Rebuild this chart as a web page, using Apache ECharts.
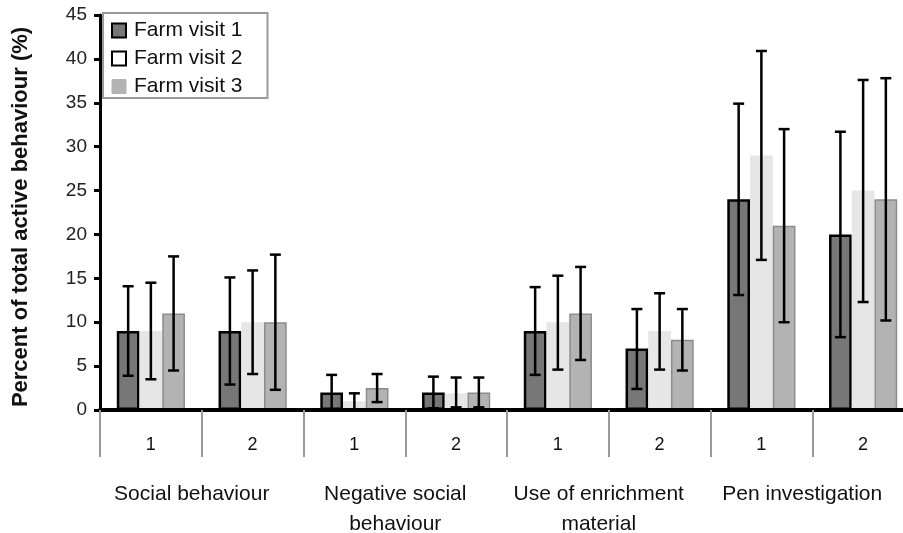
<!DOCTYPE html>
<html>
<head>
<meta charset="utf-8">
<style>
  html, body { margin: 0; padding: 0; background: #fff; }
  #chart { width: 903px; height: 533px; }
</style>
<script src="https://cdn.jsdelivr.net/npm/echarts@6/dist/echarts.min.js"></script>
</head>
<body>
<div id="chart"></div>
<script>
// Sub-category (period) labels and behaviour groups
const periods = ['1', '2', '1', '2', '1', '2', '1', '2'];
const groups = ['Social behaviour', 'Negative social\nbehaviour', 'Use of enrichment\nmaterial', 'Pen investigation'];
const seriesNames = ['Farm visit 1', 'Farm visit 2', 'Farm visit 3'];
const yTicks = { min: 0, max: 45, interval: 5 };

// Mean percentages per farm visit
const visit1 = [9, 9, 2, 2, 9, 7, 24, 20];
const visit2 = [9, 10, 1, 1.9, 10, 9, 29, 25];
const visit3 = [11, 10, 2.5, 2, 11, 8, 21, 24];

// Error bar lower / upper ends
const visit1Lo = [3.9, 2.9, 0, 0.2, 4.0, 2.4, 13.1, 8.3];
const visit1Hi = [14.1, 15.1, 4.0, 3.8, 14.0, 11.5, 34.9, 31.7];
const visit2Lo = [3.5, 4.1, 0, 0.3, 4.6, 4.6, 17.1, 12.3];
const visit2Hi = [14.5, 15.9, 1.9, 3.7, 15.3, 13.3, 40.9, 37.6];
const visit3Lo = [4.5, 2.3, 0.9, 0.3, 5.7, 4.5, 10.0, 10.2];
const visit3Hi = [17.5, 17.7, 4.1, 3.7, 16.3, 11.5, 32.0, 37.8];

const means = [visit1, visit2, visit3];
const lows = [visit1Lo, visit2Lo, visit3Lo];
const highs = [visit1Hi, visit2Hi, visit3Hi];

const FONT = '"Liberation Sans", Arial, sans-serif';
const CAT_GAP = 0.33;   // fraction of each band left empty around the bar group
const styles = [
  { color: '#777777', borderColor: '#000000', borderWidth: 2.5 },
  { color: '#e6e6e6', borderColor: '#e6e6e6', borderWidth: 0 },
  { color: '#b3b3b3', borderColor: '#8c8c8c', borderWidth: 1.5 }
];
const legendIcons = [
  { color: '#777777', borderColor: '#000000', borderWidth: 2 },
  { color: '#ffffff', borderColor: '#000000', borderWidth: 2 },
  { color: '#b3b3b3', borderColor: '#b3b3b3', borderWidth: 1 }
];

function errorSeries(k) {
  return {
    type: 'custom',
    name: seriesNames[k] + ' error',
    xAxisIndex: 0,
    z: 10,
    silent: true,
    data: periods.map((_, i) => [i, lows[k][i], highs[k][i]]),
    renderItem: function (params, api) {
      const band = api.size([1, 0])[0];
      const groupW = band * (1 - CAT_GAP);
      const barW = groupW / 3;
      const offset = -groupW / 2 + barW * (k + 0.5);
      const lo = api.coord([api.value(0), api.value(1)]);
      const hi = api.coord([api.value(0), api.value(2)]);
      const x = lo[0] + offset;
      const cap = 5.5;
      const st = { stroke: '#000', lineWidth: 2.5 };
      return {
        type: 'group',
        children: [
          { type: 'line', shape: { x1: x, y1: lo[1], x2: x, y2: hi[1] }, style: st },
          { type: 'line', shape: { x1: x - cap, y1: hi[1], x2: x + cap, y2: hi[1] }, style: st },
          { type: 'line', shape: { x1: x - cap, y1: lo[1], x2: x + cap, y2: lo[1] }, style: st }
        ]
      };
    }
  };
}

const chart = echarts.init(document.getElementById('chart'), null, { renderer: 'canvas' });

const option = {
  animation: false,
  backgroundColor: '#ffffff',
  textStyle: { fontFamily: FONT },
  grid: { left: 100, top: 15, width: 814, height: 395, containLabel: false, outerBoundsMode: 'none' },
  legend: {
    orient: 'vertical',
    left: 103,
    top: 13,
    padding: [7, 25, 1, 8],
    itemGap: 7,
    itemWidth: 14,
    itemHeight: 14,
    backgroundColor: '#ffffff',
    borderColor: '#9a9a9a',
    borderWidth: 2,
    borderRadius: 0,
    icon: 'rect',
    textStyle: { fontSize: 21, color: '#111', fontFamily: FONT, padding: [0, 0, 0, 3] },
    data: seriesNames.map((n, k) => ({ name: n, itemStyle: legendIcons[k] }))
  },
  xAxis: [
    {
      type: 'category',
      data: periods,
      position: 'bottom',
      z: 5,
      axisLine: { show: true, lineStyle: { color: '#000', width: 4 } },
      axisTick: { show: true, interval: 0, length: 47, lineStyle: { color: '#999', width: 2 } },
      axisLabel: { interval: 0, fontSize: 18, color: '#111', margin: 26, fontFamily: FONT },
      splitLine: { show: false }
    },
    {
      type: 'category',
      data: groups,
      position: 'bottom',
      offset: 69,
      axisLine: { show: false },
      axisTick: { show: false },
      axisLabel: { interval: 0, fontSize: 21, lineHeight: 30, color: '#111', margin: 0, fontFamily: FONT, padding: [0, 20, 0, 0] },
      splitLine: { show: false }
    }
  ],
  yAxis: {
    type: 'value',
    min: yTicks.min,
    max: yTicks.max,
    interval: yTicks.interval,
    name: 'Percent of total active behaviour (%)',
    nameLocation: 'middle',
    nameRotate: 90,
    nameGap: 68,
    nameTextStyle: { fontSize: 22, fontWeight: 'bold', color: '#111', fontFamily: FONT, padding: [0, 9, 0, 0] },
    axisLine: { show: true, lineStyle: { color: '#000', width: 3 } },
    axisTick: { show: true, inside: false, length: 6, lineStyle: { color: '#000', width: 3 } },
    axisLabel: { fontSize: 19, color: '#222', margin: 13, fontFamily: FONT },
    splitLine: { show: false }
  },
  series: [
    ...means.map((vals, k) => ({
      type: 'bar',
      name: seriesNames[k],
      xAxisIndex: 0,
      data: vals,
      barGap: '0%',
      barCategoryGap: (CAT_GAP * 100) + '%',
      itemStyle: styles[k],
      emphasis: { disabled: true }
    })),
    errorSeries(0),
    errorSeries(1),
    errorSeries(2)
  ]
};

chart.setOption(option);
</script>
</body>
</html>
